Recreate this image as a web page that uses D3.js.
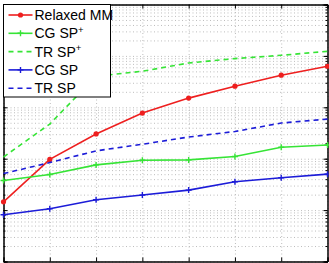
<!DOCTYPE html>
<html>
<head>
<meta charset="utf-8">
<script src="https://cdn.jsdelivr.net/npm/d3@7"></script>
<style>
  body { margin: 0; background: #fff; }
  svg { display: block; }
</style>
</head>
<body>
<svg id="chart" width="329" height="263"></svg>
<script>
// data (log y axis, no tick labels shown)
var xVals = [1, 2, 3, 4, 5, 6, 7, 8];
var relaxedMM = [14.5, 97, 303, 772, 1510, 2575, 4210, 6290];
var cgSPplus  = [37.6, 49.2, 75.8, 93.5, 94.8, 110, 167, 185];
var trSPplus  = [108, 472, 4025, 5030, 7280, 8870, 10270, 12280];
var cgSP      = [8.1, 10.6, 15.9, 19.6, 24.5, 35.5, 42.5, 50.1];
var trSP      = [51.4, 84, 142, 191, 264, 338, 494, 590];

var seriesNames = ["Relaxed MM", "CG SP", "TR SP", "CG SP", "TR SP"];
var seriesSup   = ["", "+", "+", "", ""];

var svg = d3.select("#chart"),
    margin = {top: 4.5, right: 1.5, bottom: 1.5, left: 3.5},
    width = +svg.attr("width") - margin.left - margin.right,
    height = +svg.attr("height") - margin.top - margin.bottom,
    g = svg.append("g").attr("transform", "translate(" + margin.left + "," + margin.top + ")");

var x = d3.scaleLinear().domain([1, 8]).range([0, width]),
    y = d3.scaleLog().domain([1, 1e5]).range([height, 0]);

var series = [
  {name: 0, values: relaxedMM, color: "#ee1f1f", dash: null, marker: "dot"},
  {name: 1, values: cgSPplus,  color: "#36e436", dash: null, marker: "plus"},
  {name: 2, values: trSPplus,  color: "#36e436", dash: "5,4", marker: null},
  {name: 3, values: cgSP,      color: "#1c1cd8", dash: null, marker: "plus"},
  {name: 4, values: trSP,      color: "#1c1cd8", dash: "5,4", marker: null}
];

// grid
g.append("g")
    .attr("class", "grid")
    .attr("transform", "translate(0," + height + ")")
    .call(d3.axisBottom(x).ticks(7).tickSize(-height).tickFormat(""))
    .call(function(s) { s.select(".domain").remove(); });

g.append("g")
    .attr("class", "grid")
    .call(d3.axisLeft(y).tickSize(-width).tickFormat(""))
    .call(function(s) { s.select(".domain").remove(); });

g.selectAll(".grid line")
    .attr("stroke", "#bdbdbd")
    .attr("stroke-dasharray", "1,2.5");

// axes box with inside ticks
var majors = [1, 10, 100, 1000, 1e4, 1e5];
g.append("g").call(d3.axisBottom(x).ticks(7).tickSize(0).tickFormat(""))
    .attr("transform", "translate(0," + height + ")");
g.append("g").call(d3.axisTop(x).ticks(7).tickSize(0).tickFormat(""));
g.append("g").call(d3.axisLeft(y).tickValues(majors).tickSize(-4).tickFormat(""));
g.append("g").call(d3.axisRight(y).tickValues(majors).tickSize(-4).tickFormat(""))
    .attr("transform", "translate(" + width + ",0)");
g.append("g").call(d3.axisLeft(y).tickSize(-2).tickFormat(""));
g.append("g").call(d3.axisRight(y).tickSize(-2).tickFormat(""))
    .attr("transform", "translate(" + width + ",0)");
g.append("g").call(d3.axisBottom(x).ticks(7).tickSize(-4).tickFormat(""))
    .attr("transform", "translate(0," + height + ")");
g.append("g").call(d3.axisTop(x).ticks(7).tickSize(-4).tickFormat(""));
g.selectAll(".domain").attr("stroke", "#000");

var line = d3.line()
    .x(function(d, i) { return x(xVals[i]); })
    .y(function(d) { return y(d); });

var s = g.selectAll(".series")
    .data(series)
    .enter().append("g")
    .attr("class", "series");

s.append("path")
    .attr("fill", "none")
    .attr("stroke", function(d) { return d.color; })
    .attr("stroke-width", 1.6)
    .attr("stroke-dasharray", function(d) { return d.dash; })
    .attr("d", function(d) { return line(d.values); });

function drawMarker(sel, d, px, py) {
  if (d.marker === "dot") {
    sel.append("circle").attr("cx", px).attr("cy", py).attr("r", 2.6)
        .attr("fill", d.color);
  } else if (d.marker === "plus") {
    sel.append("path")
        .attr("d", "M" + (px - 3) + "," + py + "H" + (px + 3) + "M" + px + "," + (py - 3) + "V" + (py + 3))
        .attr("stroke", d.color).attr("stroke-width", 1.4);
  }
}

s.each(function(d) {
  var el = d3.select(this);
  d.values.forEach(function(v, i) { drawMarker(el, d, x(xVals[i]), y(v)); });
});

// legend
var legend = g.append("g");
legend.append("rect")
    .attr("x", 0).attr("y", 0)
    .attr("width", 107).attr("height", 92.5)
    .attr("fill", "#fff").attr("stroke", "#000");

series.forEach(function(d, i) {
  var ly = 10.5 + i * 18.3;
  var item = legend.append("g");
  item.append("line")
      .attr("x1", 5).attr("x2", 29).attr("y1", ly).attr("y2", ly)
      .attr("stroke", d.color).attr("stroke-width", 1.6)
      .attr("stroke-dasharray", d.dash);
  drawMarker(item, d, 17, ly);
  var t = item.append("text")
      .attr("x", 31).attr("y", ly + 5)
      .style("font", "14px 'Liberation Sans', Arial, sans-serif")
      .attr("fill", "#000")
      .text(seriesNames[d.name]);
  if (seriesSup[d.name]) {
    t.append("tspan").attr("dy", -5.5).style("font-size", "9.5px").text(seriesSup[d.name]);
  }
});
</script>
</body>
</html>
